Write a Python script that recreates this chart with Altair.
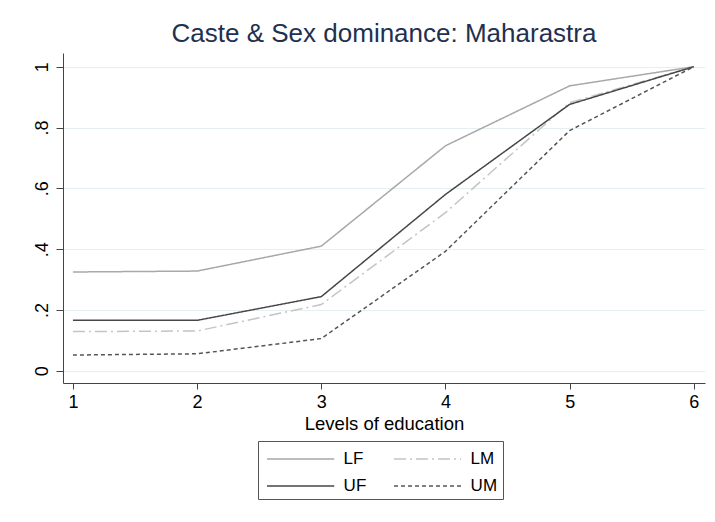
import altair as alt
import pandas as pd

levels = [1, 2, 3, 4, 5, 6]
series_names = ["LF", "LM", "UF", "UM"]
LF = [0.325, 0.328, 0.41, 0.74, 0.937, 1.0]
LM = [0.129, 0.131, 0.218, 0.52, 0.882, 1.0]
UF = [0.166, 0.166, 0.244, 0.58, 0.876, 1.0]
UM = [0.052, 0.056, 0.106, 0.393, 0.79, 1.0]

rows = []
for name, vals in zip(series_names, [LF, LM, UF, UM]):
    for x, v in zip(levels, vals):
        rows.append({"level": x, "share": v, "group": name})
df = pd.DataFrame(rows)

FONT = "Liberation Sans"

legend_cfg = dict(title=None, orient="none", legendX=195, legendY=388, direction="horizontal",
                  columns=2, symbolType="M-2.8,0H2.8", symbolSize=576, symbolOffset=24.6,
                  symbolStrokeWidth=1.5, labelFontSize=17, labelFont=FONT,
                  labelColor="#000", labelOffset=30, columnPadding=23,
                  rowPadding=6, padding=5, strokeColor="#555")

chart = alt.Chart(df).mark_line(strokeWidth=1.5).encode(
    x=alt.X("level:Q",
            scale=alt.Scale(domain=[0.92, 6.09], nice=False, zero=False),
            axis=alt.Axis(title="Levels of education", values=levels, format="d",
                          grid=False, tickSize=6, labelPadding=4, titlePadding=3,
                          labelFontSize=18, titleFontSize=18.5, titleFontWeight="normal",
                          labelFont=FONT, titleFont=FONT, labelColor="#000", titleColor="#000",
                          domainColor="#444", tickColor="#444")),
    y=alt.Y("share:Q",
            scale=alt.Scale(domain=[-0.04, 1.045], nice=False, zero=False),
            axis=alt.Axis(title=None, values=[0, 0.2, 0.4, 0.6, 0.8, 1.0],
                          labelExpr="datum.value == 0 ? '0' : datum.value == 1 ? '1' : '.' + format(datum.value * 10, 'd')",
                          labelAngle=270, labelAlign="center", labelBaseline="bottom",
                          tickSize=7, labelPadding=5, labelFontSize=18, labelFont=FONT,
                          labelColor="#000", domainColor="#444", tickColor="#444",
                          gridColor="#e6eff1", gridWidth=1)),
    color=alt.Color("group:N",
                    scale=alt.Scale(domain=series_names,
                                    range=["#a8a8a8", "#c4c4c4", "#474747", "#555555"]),
                    legend=alt.Legend(**legend_cfg)),
    strokeDash=alt.StrokeDash("group:N",
                              scale=alt.Scale(domain=series_names,
                                              range=[[1, 0], [12, 4, 2, 4], [1, 0], [4, 3]]),
                              legend=alt.Legend(**legend_cfg)),
).properties(
    width=642,
    height=330,
    title=alt.TitleParams("Caste & Sex dominance: Maharastra", fontSize=26, font=FONT,
                          fontWeight="normal", color="#1f3050", offset=6),
    autosize=alt.AutoSizeParams(type="none"),
    padding={"left": 55, "top": 45, "right": 2, "bottom": 125},
).configure_view(stroke=None)

chart.save("out.html", embed_options={"renderer": "svg", "actions": False})
